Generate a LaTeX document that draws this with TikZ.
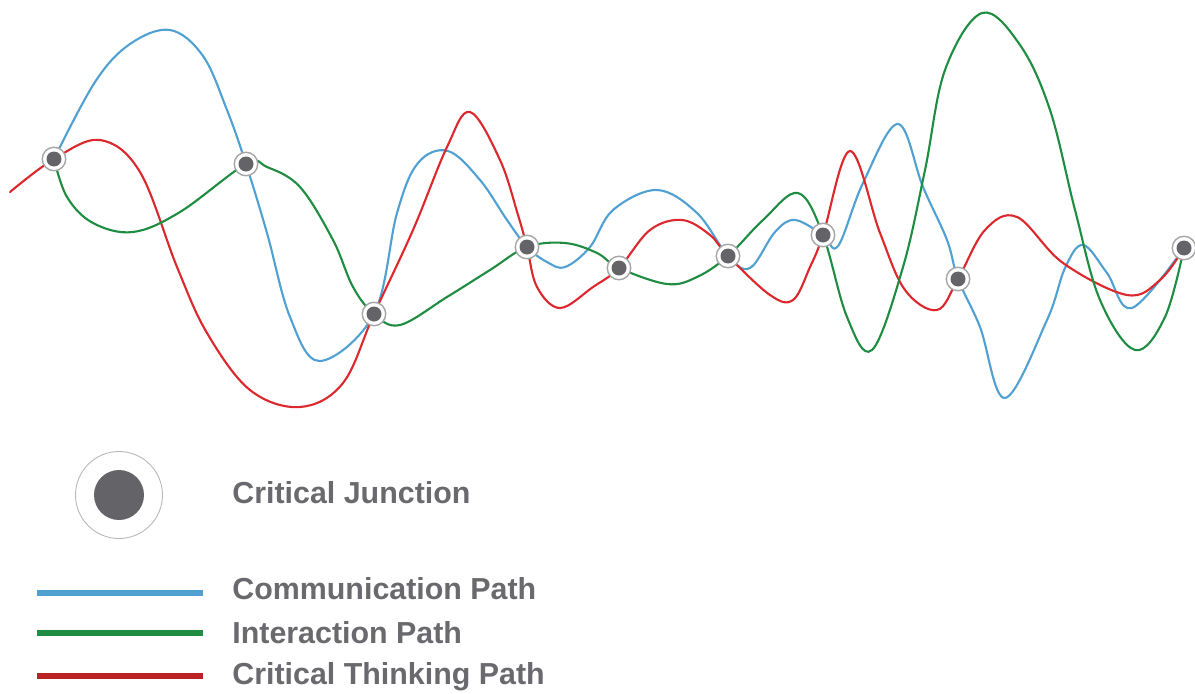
\documentclass[tikz,border=0pt]{standalone}
\usepackage{fontspec}
\setmainfont{Liberation Sans}
\usetikzlibrary{positioning}
\definecolor{commblue}{RGB}{80, 160, 210}
\definecolor{interactgreen}{RGB}{30, 140, 65}
\definecolor{thinkred}{RGB}{220, 40, 45}
\definecolor{ringgrey}{RGB}{165, 165, 165}
\definecolor{dotgrey}{RGB}{100, 100, 104}
\definecolor{labelgrey}{RGB}{105, 105, 110}

\begin{document}
\begin{tikzpicture}[x=0.02cm, y=-0.02cm,
    pathline/.style={line width=1.2pt, line cap=round, smooth, tension=0.6},
    legendline/.style={line width=3pt},
    junction/.style={circle, draw=ringgrey, line width=0.8pt, fill=white, inner sep=0pt,
      minimum size=0.47cm,
      path picture={\fill[dotgrey] (path picture bounding box.center) circle[radius=0.15cm];}},
    bigjunction/.style={circle, draw=ringgrey!80, line width=0.5pt, fill=white, inner sep=0pt,
      minimum size=1.74cm,
      path picture={\fill[dotgrey] (path picture bounding box.center) circle[radius=0.5cm];}},
    legendtext/.style={anchor=base west, text=labelgrey, inner sep=0pt,
      font=\fontsize{17.3pt}{20pt}\selectfont\bfseries}]
  \useasboundingbox (0,0) rectangle (1195,693);

  % critical junctions
  \coordinate (j1) at (54,159);
  \coordinate (j2) at (246,164);
  \coordinate (j3) at (374,314);
  \coordinate (j4) at (527,247);
  \coordinate (j5) at (619,268);
  \coordinate (j6) at (728,256);
  \coordinate (j7) at (823,235);
  \coordinate (j8) at (958,279);
  \coordinate (j9) at (1184,248);

  % communication path
  \draw[pathline, commblue] plot coordinates {(j1) (95,82) (130,44) (170,30) (203,56)
    (227,110) (j2) (267,233) (290,317) (320,361) (j3) (397,213) (418,163)
    (448,151) (480,180) (507,220) (j4) (547,262) (565,267) (590,247) (613,210) (657,190)
    (697,213) (j6) (750,268) (775,232) (795,220) (j7) (838,246) (863,183) (898,124)
    (923,187) (947,240) (j8) (980,327) (1005,398) (1047,320) (1065,268) (1083,245)
    (1107,273) (1132,308) (j9)};

  % critical thinking path
  \draw[pathline, thinkred] plot coordinates {(10,192) (j1) (100,140) (140,172)
    (177,267) (207,333) (250,390) (300,407) (343,383) (j3) (413,230) (447,147) (470,112)
    (500,160) (518,215) (j4) (537,287) (560,308) (593,287) (j5) (650,230) (682,220)
    (710,235) (j6) (770,295) (793,300) (810,267) (j7) (850,151) (880,233) (905,290)
    (937,310) (j8) (985,230) (1017,217) (1063,263) (1127,295) (1160,280) (j9)};

  % interaction path
  \draw[pathline, interactgreen] plot coordinates {(j1) (67,197) (93,223) (133,232)
    (180,212) (j2) (267,167) (300,187) (333,240) (353,287) (j3) (400,325)
    (447,297) (490,270) (j4) (565,243) (597,253) (j5) (667,284) (697,277) (j6)
    (763,220) (798,193) (j7) (847,317) (872,350) (903,267) (925,170) (945,70) (982,13)
    (1020,45) (1050,110) (1075,210) (1100,300) (1135,350) (1165,317) (j9)};

  \foreach \i in {1,...,9}
    \node[junction] (n\i) at (j\i) {};

  % legend
  \node[bigjunction] (keyJunction) at (119,495) {};
  \node[legendtext] (lblJunction) at (232,503) {Critical Junction};

  \draw[legendline, commblue] (37,593) -- (203,593);
  \node[legendtext] (lblComm) at (232,599) {Communication Path};
  \draw[legendline, interactgreen] (37,633) -- (203,633);
  \node[legendtext] (lblInteract) at (232,643) {Interaction Path};
  \draw[legendline, thinkred!85!black] (37,676) -- (203,676);
  \node[legendtext] (lblThink) at (232,684) {Critical Thinking Path};
\end{tikzpicture}
\end{document}
